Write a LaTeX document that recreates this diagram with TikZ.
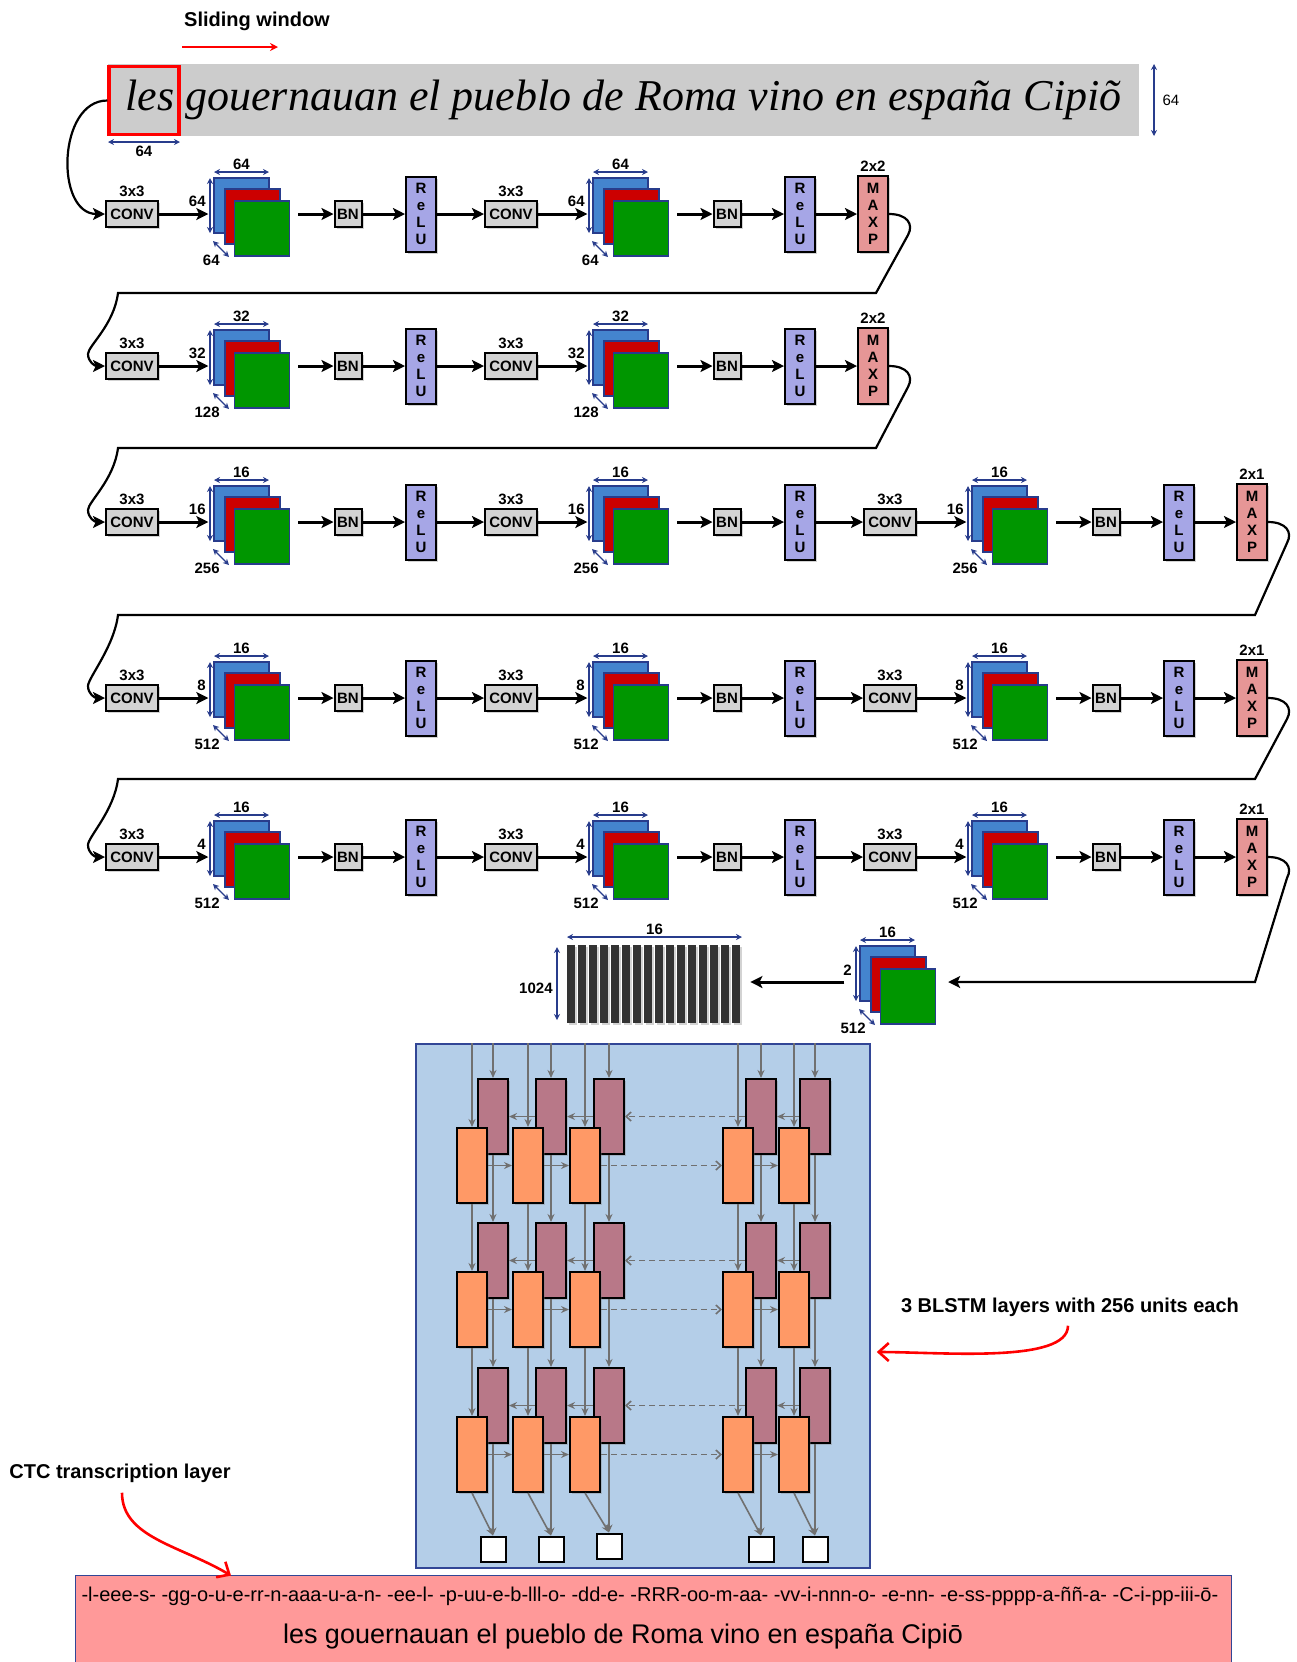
\documentclass[tikz,border=0pt]{standalone}
\usepackage{fontspec}
\setmainfont{Liberation Sans}
\newfontfamily\handfont{Liberation Serif}
\usetikzlibrary{arrows.meta,shadows}

\definecolor{boxgray}{RGB}{211,211,211}
\definecolor{relublue}{RGB}{166,166,230}
\definecolor{maxpink}{RGB}{230,150,150}
\definecolor{fmblue}{RGB}{68,132,206}
\definecolor{fmred}{RGB}{204,0,0}
\definecolor{fmgreen}{RGB}{0,150,0}
\definecolor{dimblue}{RGB}{40,60,140}
\definecolor{bwdcol}{RGB}{184,120,136}
\definecolor{fwdcol}{RGB}{255,153,102}
\definecolor{lstmbg}{RGB}{180,206,232}
\definecolor{lstmline}{RGB}{50,70,150}
\definecolor{ctcpink}{RGB}{255,153,153}
\definecolor{stripgray}{RGB}{204,204,204}
\definecolor{lstmarrow}{RGB}{112,112,112}
\definecolor{barcol}{RGB}{51,51,51}

\begin{document}
\begin{tikzpicture}[x=0.5pt,y=-0.5pt,>=Stealth,
 every node/.style={inner sep=0pt,text=black,font=\fontsize{7.5}{8.6}\selectfont\bfseries},
 every label/.style={inner sep=1.5pt},
 shad/.style={drop shadow={shadow xshift=1pt,shadow yshift=-1pt,opacity=.35}},
 blk/.style={draw,line width=1pt,shad},
 convbox/.style={blk,fill=boxgray,minimum width=26pt,minimum height=13pt},
 bnbox/.style={blk,fill=boxgray,minimum width=13.5pt,minimum height=13pt},
 relubox/.style={blk,fill=relublue,minimum width=15pt,minimum height=37.5pt,align=center},
 maxbox/.style={blk,fill=maxpink,minimum width=15pt,minimum height=38pt,align=center},
 fmap/.style={draw=dimblue,line width=.7pt,minimum size=27.5pt},
 dimarr/.style={dimblue,line width=.6pt,{Stealth[length=3pt,width=3pt]}-{Stealth[length=3pt,width=3pt]}},
 flow/.style={line width=1.5pt,-{Stealth[length=6pt,width=6pt,inset=1.4pt]}},
 bwd/.style={blk,fill=bwdcol,minimum width=15pt,minimum height=37.5pt},
 fwd/.style={blk,fill=fwdcol,minimum width=15pt,minimum height=37.5pt},
 outbox/.style={draw,line width=1pt,fill=white,minimum size=12.5pt},
 garr/.style={lstmarrow,line width=.8pt,-{Stealth[length=4pt,width=3.5pt]}},
 gdash/.style={lstmarrow,line width=.8pt,dash pattern=on 3pt off 2pt,-{Straight Barb[length=2.5pt,width=4.5pt]}},
 redarr/.style={red,line width=1.3pt,-{Straight Barb[length=5pt,width=9pt]}}]
\useasboundingbox (0,0) rectangle (1297,1662);

% input line
\node[fill=stripgray,minimum width=515.5pt,minimum height=36pt,font=\handfont\itshape\fontsize{22}{22}\selectfont] (img) at (623.5,100) {les gouernauan el pueblo de Roma vino en españa Cipiõ};
\node[draw=red,line width=1.7pt,minimum width=35pt,minimum height=34pt] (win) at (144,100.5) {};
\node[font=\fontsize{10}{12}\selectfont\bfseries] (sw) at (257,21) {Sliding window};
\coordinate (sl) at (182,47); \coordinate (sr) at (278,47);
\draw[red,line width=1pt,-{Stealth[length=4pt,width=4pt]}] (sl) -- (sr);
\draw[dimarr] (108,142) -- (180,142) node[midway,below=1.5pt] (wwin) {64};
\draw[dimarr] (1154,64) -- (1154,136) node[midway,right=4pt,font=\fontsize{7.5}{9}\selectfont] (himg) {64};

% conv rows
\foreach \r/\y/\n/\w/\h/\d/\mp in {1/214/2/64/64/64/2x2,2/366/2/32/32/128/2x2,3/522/3/16/16/256/2x1,4/698/3/16/8/512/2x1,5/857/3/16/4/512/2x1}{
 \foreach \g in {1,...,\n}{
  \pgfmathsetmacro\cx{132+379*(\g-1)}
  \node[convbox,label=above:3x3] (c\r\g) at (\cx,\y) {CONV};
  \node[fmap,fill=fmblue] (sb\r\g) at (\cx+109.5,\y-8.5) {};
  \node[fmap,fill=fmred] (sr\r\g) at (\cx+120.5,\y+2.5) {};
  \node[fmap,fill=fmgreen] (sg\r\g) at (\cx+130,\y+14.5) {};
  \draw[dimarr] (\cx+82,\y-42) -- (\cx+137,\y-42) node[midway,above=1pt] (wl\r\g) {\w};
  \draw[dimarr] (\cx+78,\y-36) -- (\cx+78,\y+19);
  \node[anchor=east] (hl\r\g) at (\cx+74,\y-13) {\h};
  \draw[dimarr] (\cx+81,\y+27) -- (\cx+97,\y+43);
  \node[anchor=east] (dl\r\g) at (\cx+88,\y+46) {\d};
  \node[bnbox] (b\r\g) at (\cx+216,\y) {BN};
  \node[relubox] (r\r\g) at (\cx+289,\y) {R\\e\\L\\U};
  \draw[flow,shorten >=2.5pt] (c\r\g.east) -- (sb\r\g.west |- c\r\g.east);
  \draw[flow,shorten <=4pt] (sg\r\g.east |- b\r\g.west) -- (b\r\g.west);
  \draw[flow] (b\r\g.east) -- (r\r\g.west);
  \ifnum\g>1
   \pgfmathtruncatemacro\p{\g-1}
   \draw[flow] (r\r\p.east) -- (c\r\g.west);
  \fi
 }
 \pgfmathsetmacro\mx{132+379*(\n-1)+362}
 \node[maxbox,label=above:\mp] (m\r) at (\mx,\y) {M\\A\\X\\P};
 \draw[flow] (r\r\n.east) -- (m\r.west);
}
\draw[flow,line width=1.1pt] (win.west) .. controls +(-50,0) and +(-50,0) .. (c11.west);
\foreach \r/\s/\y/\H/\T in {1/2/214/293/366,2/3/366/448/522,3/4/522/615/698,4/5/698/779/857}
 \draw[flow,line width=1.1pt] (m\r.east) .. controls +(18,0) and +(6,-11) .. ++(19,21) -- ++(-32,\H-\y-21) -- (118,\H) .. controls +(-4,32) and +(0,-8) .. (88,\T-12) .. controls +(0,8) and +(-10,0) .. (c\s1.west);

% last feature map and columns
\node[fmap,fill=fmblue] (lb) at (887.5,973.5) {};
\node[fmap,fill=fmred] (lr) at (898.5,984.5) {};
\node[fmap,fill=fmgreen] (lg) at (908,996.5) {};
\draw[dimarr] (860,940) -- (915,940) node[midway,above=1pt] (lwl) {16};
\draw[dimarr] (856,946) -- (856,1001);
\node[anchor=east] (lhl) at (852,970) {2};
\draw[dimarr] (859,1009) -- (875,1025);
\node[anchor=east] (ldl) at (866,1028) {512};
\draw[flow,line width=1.1pt,shorten >=6pt] (m5.east) .. controls +(18,0) and +(6,-11) .. ++(19,21) -- ++(-32,104) -- (lg.east |- 0,982);
\foreach \k in {0,...,15}
 \fill[barcol,shad] ({567+11*\k},945) rectangle ++(7.5,78);
\node[minimum width=87.5pt,minimum height=39pt] (bars) at (654.5,984) {};
\draw[flow,shorten <=7.5pt,shorten >=4pt] (lb.west |- 0,982) -- (bars.east |- 0,982);
\draw[dimarr] (567,937) -- (742,937) node[midway,above=1pt] (bwl) {16};
\draw[dimarr] (557,947) -- (557,1020);
\node[anchor=east] (bhl) at (553,988) {1024};

% BLSTM
\node[draw=lstmline,fill=lstmbg,line width=.8pt,minimum width=227pt,minimum height=262pt] (bl) at (643,1306) {};
\foreach \i/\oc/\pc/\oy in {1/472/493/1549,2/528/551/1549,3/585/609/1546,4/738/761/1549,5/794/815/1549}{
 \foreach \l/\t in {1/1079,2/1223,3/1368}{
  \node[bwd] (p\i\l) at (\pc,\t+37.5) {};
  \node[fwd] (o\i\l) at (\oc,\t+86.5) {};
 }
 \node[outbox] (y\i) at (\pc,\oy) {};
}
\foreach \i in {1,...,5}{
 \draw[garr] (o\i1 |- bl.north) -- (o\i1.north);
 \draw[garr] (p\i1 |- bl.north) -- (p\i1.north);
 \draw[garr] (o\i1.south) -- (o\i2.north);
 \draw[garr] (o\i2.south) -- (o\i3.north);
 \draw[garr] (p\i1.south) -- (p\i2.north);
 \draw[garr] (p\i2.south) -- (p\i3.north);
 \draw[garr] (o\i3.south) -- (y\i.north);
 \draw[garr] (p\i3.south) -- (y\i.north);
}
\foreach \l in {1,2,3}{
 \foreach \a/\b in {2/1,3/2,5/4}
  \draw[garr] (p\a\l.west) -- (p\b\l.east);
 \draw[gdash] (p4\l.west) -- (p3\l.east);
 \foreach \a/\b in {1/2,2/3,4/5}
  \draw[garr] (o\a\l.east) -- (o\b\l.west);
 \draw[gdash] (o3\l.east) -- (o4\l.west);
}
\node[font=\fontsize{10}{12}\selectfont\bfseries] (note) at (1070,1307) {3 BLSTM layers with 256 units each};
\draw[redarr,shorten >=3pt] (note.south) ++(-2,9) .. controls +(0,38) and +(70,0) .. (bl.east |- 0,1352);

% CTC output
\node[fill=ctcpink,minimum width=577.5pt,minimum height=44pt] (ctcbox) at (653.5,1620) {};
\draw[lstmline,line width=.8pt] (ctcbox.south west) -- (ctcbox.north west) -- (ctcbox.north east) -- (ctcbox.south east);
\node[font=\fontsize{10}{12}\selectfont] (ctcraw) at (650,1596) {-l-eee-s- -gg-o-u-e-rr-n-aaa-u-a-n- -ee-l- -p-uu-e-b-lll-o- -dd-e- -RRR-oo-m-aa- -vv-i-nnn-o- -e-nn- -e-ss-pppp-a-ññ-a- -C-i-pp-iii-ō-};
\node[font=\fontsize{13.5}{16}\selectfont] (ctcout) at (623,1636) {les gouernauan el pueblo de Roma vino en españa Cipiō};
\node[font=\fontsize{10}{12}\selectfont\bfseries] (ctcnote) at (120,1473) {CTC transcription layer};
\draw[redarr] (ctcnote.south) ++(2,10) .. controls +(0,45) and +(-50,-30) .. (ctcbox.north -| 231,0);
\end{tikzpicture}
\end{document}
